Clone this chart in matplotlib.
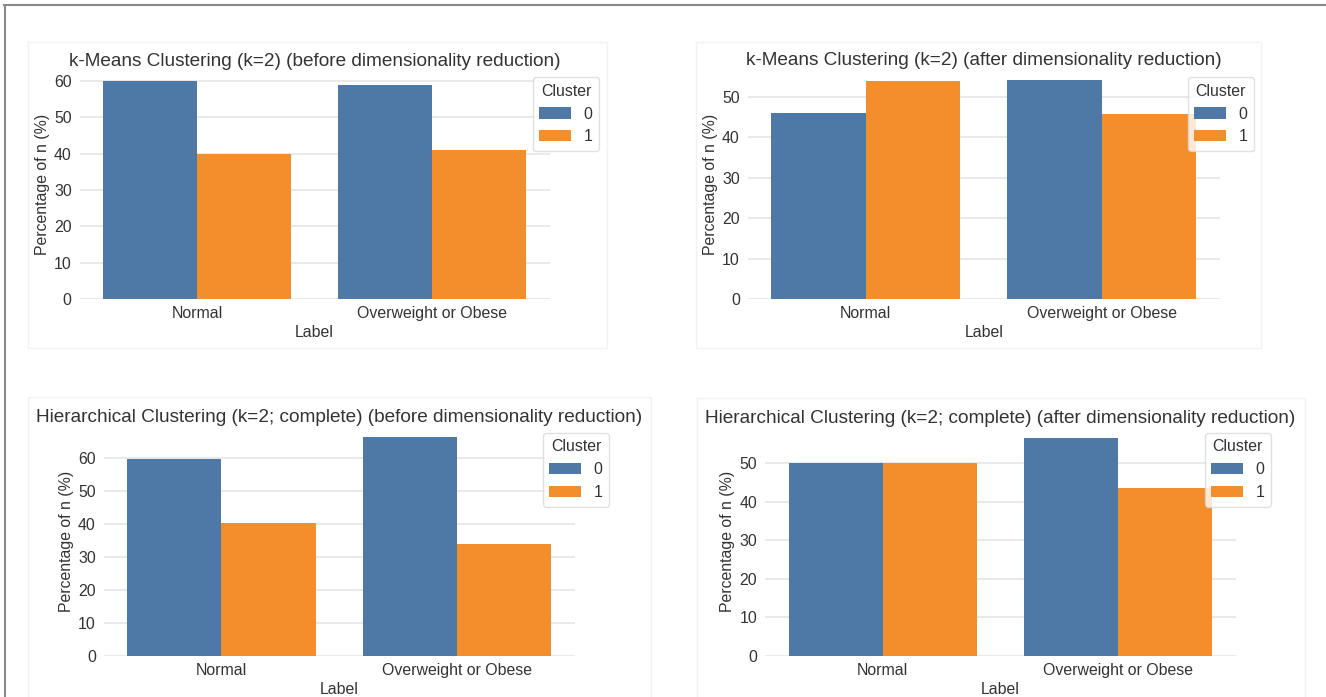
import numpy as np
import matplotlib
matplotlib.use("Agg")
import matplotlib.pyplot as plt
from matplotlib.patches import Rectangle
from matplotlib.lines import Line2D
from matplotlib.ticker import MultipleLocator

# ---------------- data ----------------
categories = ["Normal", "Overweight or Obese"]
cluster_labels = ["0", "1"]

titles = [
    "k-Means Clustering (k=2) (before dimensionality reduction)",
    "k-Means Clustering (k=2) (after dimensionality reduction)",
    "Hierarchical Clustering (k=2; complete) (before dimensionality reduction)",
    "Hierarchical Clustering (k=2; complete) (after dimensionality reduction)",
]

kmeans_before_c0 = [60.0, 59.0]
kmeans_before_c1 = [40.0, 41.0]
kmeans_after_c0 = [46.1, 54.1]
kmeans_after_c1 = [53.9, 45.9]
hier_before_c0 = [59.7, 66.2]
hier_before_c1 = [40.3, 33.8]
hier_after_c0 = [49.9, 56.6]
hier_after_c1 = [50.1, 43.4]

x_label = "Label"
y_label = "Percentage of n (%)"
legend_title = "Cluster"

# ---------------- style ----------------
plt.rcParams["font.family"] = ["Liberation Sans", "DejaVu Sans"]
TEXT = "#333333"
BLUE = "#4E79A7"
ORANGE = "#F28E2B"
GRID = "#e3e3e3"
FS = 11.4
TFS = 13.7

W, H = 1326, 697
fig = plt.figure(figsize=(W / 100, H / 100), dpi=100)
fig.patch.set_facecolor("white")


def fx(px):
    return px / W


def fy(py):
    return 1 - py / H


# outer frame (top and left)
fig.add_artist(Line2D([fx(4), fx(W)], [fy(5), fy(5)], color="#8a8a8a", lw=1.5))
fig.add_artist(Line2D([fx(4.5), fx(4.5)], [fy(5), fy(H)], color="#8a8a8a", lw=1.5))

# faint cards behind each panel (l, t, r, b in px)
cards = [
    (27.5, 41.5, 607.3, 347.5),
    (696, 41.5, 1261.3, 348),
    (27.5, 397.3, 651, 720),
    (697, 397.7, 1305, 720),
]
for l, t, r, b in cards:
    fig.add_artist(Rectangle((fx(l), fy(b)), fx(r - l), fy(t) - fy(b),
                             transform=fig.transFigure, fill=False,
                             edgecolor="#f2f2f2", lw=1.0))

# axes boxes (l, t, r, b in px)
axes_px = [
    (79.5, 70, 549.7, 299),
    (747.6, 69.5, 1220, 299),
    (103.6, 426.3, 575, 655.7),
    (765, 426.7, 1236, 655.7),
]
# legend anchor (right, top in px)
legend_px = [
    (599, 77.3),
    (1253.7, 77.3),
    (609, 433),
    (1270.6, 433),
]

series = [
    (kmeans_before_c0, kmeans_before_c1),
    (kmeans_after_c0, kmeans_after_c1),
    (hier_before_c0, hier_before_c1),
    (hier_after_c0, hier_after_c1),
]

x = np.arange(len(categories))
bw = 0.4
for i in range(4):
    l, t, r, b = axes_px[i]
    ax = fig.add_axes([fx(l), fy(b), fx(r - l), fy(t) - fy(b)])
    c0, c1 = series[i]
    ax.bar(x - bw / 2, c0, width=bw, color=BLUE, label=cluster_labels[0], zorder=2)
    ax.bar(x + bw / 2, c1, width=bw, color=ORANGE, label=cluster_labels[1], zorder=2)
    ax.set_xlim(-0.5, len(categories) - 0.5)
    ax.set_ylim(0, max(max(c0), max(c1)) * 1.05)
    ax.yaxis.set_major_locator(MultipleLocator(10))
    ax.set_xticks(x)
    ax.set_xticklabels(categories)
    ax.grid(axis="y", color=GRID, lw=1.1, zorder=0)
    ax.grid(axis="x", visible=False)
    ax.set_axisbelow(True)
    for s in ax.spines.values():
        s.set_visible(False)
    ax.tick_params(axis="y", length=0, pad=5.6, labelsize=FS, labelcolor=TEXT)
    ax.tick_params(axis="x", length=0, pad=5.0, labelsize=FS, labelcolor=TEXT)
    ax.set_xlabel(x_label, fontsize=FS, color=TEXT, labelpad=3.2)
    ax.set_ylabel(y_label, fontsize=FS, color=TEXT, labelpad=3)
    ax.set_title(titles[i], fontsize=TFS, color=TEXT, pad=1.5)
    lr, lt = legend_px[i]
    leg = ax.legend(title=legend_title, loc="upper right",
                    bbox_to_anchor=(fx(lr), fy(lt)), bbox_transform=fig.transFigure,
                    borderaxespad=0, fontsize=FS, title_fontsize=FS,
                    frameon=True, fancybox=True, framealpha=0.8,
                    edgecolor="#d9d9d9")
    for txt in leg.get_texts():
        txt.set_color(TEXT)
    leg.get_title().set_color(TEXT)

fig.savefig("out.png", dpi=100, facecolor="white")
